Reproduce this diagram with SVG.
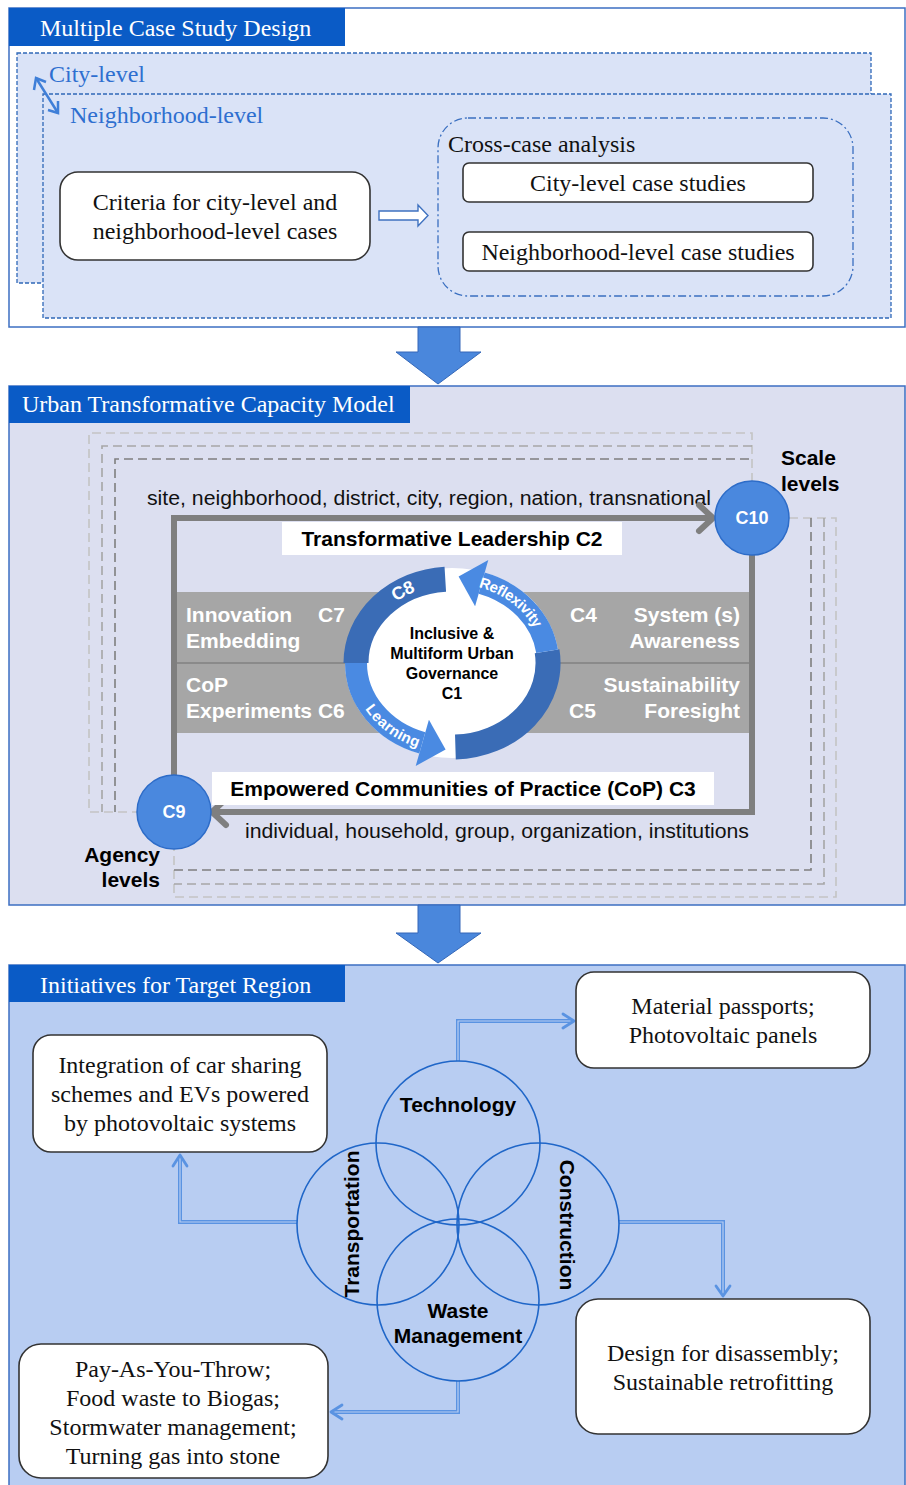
<svg xmlns="http://www.w3.org/2000/svg" width="906" height="1485" viewBox="0 0 906 1485">
<defs>
<style>
.serif{font-family:"Liberation Serif","Times New Roman",serif;}
.sans{font-family:"Liberation Sans",Arial,sans-serif;}
.title{font-family:"Liberation Serif",serif;font-size:24px;fill:#ffffff;}
.sec{stroke:#3d6fc2;stroke-width:1.5;}
.bar{fill:#0a5bc6;}
.wbox{fill:#ffffff;stroke:#333333;stroke-width:1.6;}
.t21{font-family:"Liberation Serif",serif;font-size:24px;fill:#111111;text-anchor:middle;}
.bw{font-family:"Liberation Sans",Arial,sans-serif;font-weight:bold;fill:#ffffff;}
.bb{font-family:"Liberation Sans",Arial,sans-serif;font-weight:bold;fill:#000000;}
.venn{fill:none;stroke:#1f66c8;stroke-width:1.6;}
.conn{fill:none;stroke:#5a93e2;stroke-width:4;}
.connin{fill:none;stroke:#b8cdf2;stroke-width:1.2;}
.chev{fill:none;stroke:#5a93e2;stroke-width:2.8;stroke-linecap:round;stroke-linejoin:round;}
.gl{fill:none;stroke:#7f7f7f;stroke-width:6;}
.bigarrow{fill:#4a87dc;stroke:#3467b8;stroke-width:1;}
.node{fill:#4a88de;stroke:#2d6cc8;stroke-width:1.5;}
</style>
<path id="refPath" d="M 466.7 579.8 A 96 84 0 0 1 544.2 638.3"/>
<path id="c8Path" d="M 370.4 617.8 A 96 84 0 0 1 443.6 579.3"/>
<path id="learnPath" d="M 360.8 689.7 A 96 84 0 0 0 437.3 746.7"/>
</defs>

<!-- SECTION 1 -->
<g id="section1">
<rect x="9" y="8" width="896" height="319" fill="#ffffff" class="sec"/>
<rect x="9" y="8" width="336" height="38" class="bar"/>
<text x="40" y="36" class="title">Multiple Case Study Design</text>
</g>
<g id="city-level">
<rect x="17" y="53" width="854" height="230" fill="#dae3f7" stroke="#2f68b8" stroke-width="1.3" stroke-dasharray="4,2"/>
<text x="49" y="82" class="serif" font-size="24" fill="#2e6fd0">City-level</text>
</g>
<g id="neighborhood-level">
<rect x="43" y="94" width="848" height="224" fill="#dae3f7" stroke="#2f68b8" stroke-width="1.3" stroke-dasharray="4,2"/>
<text x="70" y="123" class="serif" font-size="24" fill="#2e6fd0">Neighborhood-level</text>
</g>
<g id="criteria">
<rect x="60" y="172" width="310" height="88" rx="18" class="wbox"/>
<text x="215" y="210" class="t21">Criteria for city-level and</text>
<text x="215" y="239" class="t21">neighborhood-level cases</text>
</g>
<g id="cross-case">
<rect x="438" y="118" width="415" height="178" rx="30" fill="none" stroke="#3a6fc0" stroke-width="1.3" stroke-dasharray="8,3,2,3"/>
<text x="448" y="152" class="serif" font-size="24" fill="#111">Cross-case analysis</text>
</g>
<g id="city-cases">
<rect x="463" y="163" width="350" height="39" rx="6" class="wbox"/>
<text x="638" y="191" class="t21">City-level case studies</text>
</g>
<g id="neigh-cases">
<rect x="463" y="232" width="350" height="39" rx="6" class="wbox"/>
<text x="638" y="260" class="t21">Neighborhood-level case studies</text>
</g>

<!-- SECTION 2 -->
<g id="section2">
<rect x="9" y="386" width="896" height="519" fill="#dcdff0" class="sec"/>
<rect x="9" y="386" width="401" height="37" class="bar"/>
<text x="22" y="412" class="title">Urban Transformative Capacity Model</text>
</g>
<g id="scale-dashes" fill="none" stroke-dasharray="9,5" stroke-width="1.6">
<path d="M 752 482 L 752 433 L 89 433 L 89 812 L 137 812" stroke="#c4c4c4"/>
<path d="M 752 446 L 102 446 L 102 812" stroke="#a6a6a6"/>
<path d="M 749 459 L 115 459 L 115 812" stroke="#7f7f7f"/>
<path d="M 789 518 L 836 518 L 836 897 L 174 897 L 174 849" stroke="#c4c4c4"/>
<path d="M 824 518 L 824 884 L 174 884" stroke="#a6a6a6"/>
<path d="M 811 518 L 811 870 L 174 870" stroke="#7f7f7f"/>
</g>
<text x="147" y="505" class="sans" font-size="20" fill="#111" textLength="564" lengthAdjust="spacingAndGlyphs">site, neighborhood, district, city, region, nation, transnational</text>
<text x="245" y="838" class="sans" font-size="20" fill="#111" textLength="504" lengthAdjust="spacingAndGlyphs">individual, household, group, organization, institutions</text>

<g id="gray-block">
<rect x="177" y="592" width="572" height="141" fill="#a6a6a6"/>
<line x1="177" y1="663" x2="749" y2="663" stroke="#8a8a8a" stroke-width="2"/>
<text x="186" y="622" class="bw" font-size="21">Innovation</text>
<text x="318" y="622" class="bw" font-size="21">C7</text>
<text x="186" y="648" class="bw" font-size="21">Embedding</text>
<text x="186" y="692" class="bw" font-size="21">CoP</text>
<text x="186" y="718" class="bw" font-size="21">Experiments C6</text>
<text x="570" y="622" class="bw" font-size="21">C4</text>
<text x="740" y="622" class="bw" font-size="21" text-anchor="end">System (s)</text>
<text x="740" y="648" class="bw" font-size="21" text-anchor="end">Awareness</text>
<text x="740" y="692" class="bw" font-size="21" text-anchor="end">Sustainability</text>
<text x="569" y="718" class="bw" font-size="21">C5</text>
<text x="740" y="718" class="bw" font-size="21" text-anchor="end">Foresight</text>
</g>

<g id="connectors-model">
<path d="M 174 777 L 174 518 L 712 518" class="gl"/>
<path d="M 699 505 L 713 518 L 699 531" class="gl" stroke-linecap="round" stroke-linejoin="round"/>
<path d="M 752 555 L 752 812 L 213 812" class="gl"/>
<path d="M 226 799 L 212 812 L 226 825" class="gl" stroke-linecap="round" stroke-linejoin="round"/>
</g>

<g id="leadership">
<rect x="282" y="522" width="340" height="33" fill="#ffffff"/>
<text x="452" y="546" class="bb" font-size="21" text-anchor="middle">Transformative Leadership C2</text>
</g>
<g id="communities">
<rect x="212" y="772" width="502" height="33" fill="#ffffff"/>
<text x="463" y="796" class="bb" font-size="21" text-anchor="middle">Empowered Communities of Practice (CoP) C3</text>
</g>

<g id="C1-cycle">
<ellipse cx="452" cy="663" rx="107" ry="95" fill="#ffffff"/>
<path d="M 445.3 579.2 A 96 84 0 0 0 356 663" fill="none" stroke="#3a6cb6" stroke-width="25"/>
<path d="M 356 663 A 96 84 0 0 0 422.3 742.9" fill="none" stroke="#4a8ae2" stroke-width="22"/>
<polygon points="415.7,766 428.9,719.8 445.6,749.5" fill="#4a8ae2"/>
<path d="M 455.4 747 A 96 84 0 0 0 547.1 651.3" fill="none" stroke="#3a6cb6" stroke-width="25"/>
<path d="M 547.1 651.3 A 96 84 0 0 0 481.7 583.1" fill="none" stroke="#4a8ae2" stroke-width="22"/>
<polygon points="488.3,560 475.1,606.2 458.6,576.5" fill="#4a8ae2"/>
<text class="bw" font-size="18" dy="6"><textPath href="#c8Path" startOffset="50%" text-anchor="middle">C8</textPath></text>
<text class="bw" font-size="15" dy="5"><textPath href="#refPath" startOffset="50%" text-anchor="middle">Reflexivity</textPath></text>
<text class="bw" font-size="15" dy="5"><textPath href="#learnPath" startOffset="50%" text-anchor="middle">Learning</textPath></text>
<text x="452" y="639" class="bb" font-size="16" text-anchor="middle">Inclusive &amp;</text>
<text x="452" y="659" class="bb" font-size="16" text-anchor="middle">Multiform Urban</text>
<text x="452" y="679" class="bb" font-size="16" text-anchor="middle">Governance</text>
<text x="452" y="699" class="bb" font-size="16" text-anchor="middle">C1</text>
</g>

<g id="C10">
<circle cx="752" cy="518" r="37" class="node"/>
<text x="752" y="524" class="bw" font-size="18" text-anchor="middle">C10</text>
<text x="781" y="465" class="bb" font-size="21">Scale</text>
<text x="781" y="491" class="bb" font-size="21">levels</text>
</g>
<g id="C9">
<circle cx="174" cy="812" r="37" class="node"/>
<text x="174" y="818" class="bw" font-size="18" text-anchor="middle">C9</text>
<text x="160" y="862" class="bb" font-size="21" text-anchor="end">Agency</text>
<text x="160" y="887" class="bb" font-size="21" text-anchor="end">levels</text>
</g>

<!-- SECTION 3 -->
<g id="section3">
<rect x="9" y="965" width="896" height="525" fill="#b8cdf2" class="sec"/>
<rect x="9" y="965" width="336" height="37" class="bar"/>
<text x="40" y="993" class="title">Initiatives for Target Region</text>
</g>

<!-- flow arrows between sections -->
<g id="section-arrows">
<polygon points="418,327 460,327 460,352 481,352 438,384 396,352 418,352" class="bigarrow"/>
<polygon points="418,905 460,905 460,933 481,933 438,963 396,933 418,933" class="bigarrow"/>
<path d="M 36 78 L 58 113" stroke="#3f7fd8" stroke-width="2.5" fill="none"/>
<path d="M 34 90 L 36 78 L 46 82" stroke="#3f7fd8" stroke-width="2.5" fill="none"/>
<path d="M 48 110 L 58 113 L 58 101" stroke="#3f7fd8" stroke-width="2.5" fill="none"/>
<polygon points="379,211 418,211 418,205 428,215.5 418,226 418,220 379,220" fill="#ffffff" stroke="#3f72c0" stroke-width="1.4"/>
</g>

<g id="connectors">
<path d="M 458 1061 L 458 1021 L 572 1021" class="conn"/>
<path d="M 458 1061 L 458 1021 L 572 1021" class="connin"/>
<path d="M 563 1014 L 574 1021 L 563 1028" class="chev"/>
<path d="M 297 1222 L 180 1222 L 180 1158" class="conn"/>
<path d="M 297 1222 L 180 1222 L 180 1158" class="connin"/>
<path d="M 173 1166 L 180 1155 L 187 1166" class="chev"/>
<path d="M 619 1222 L 723 1222 L 723 1294" class="conn"/>
<path d="M 619 1222 L 723 1222 L 723 1294" class="connin"/>
<path d="M 716 1286 L 723 1296 L 730 1286" class="chev"/>
<path d="M 458 1381 L 458 1412 L 333 1412" class="conn"/>
<path d="M 458 1381 L 458 1412 L 333 1412" class="connin"/>
<path d="M 342 1405 L 331 1412 L 342 1419" class="chev"/>
</g>

<g id="technology">
<circle cx="458" cy="1143" r="82" class="venn"/>
<text x="458" y="1112" class="bb" font-size="21" text-anchor="middle">Technology</text>
</g>
<g id="transportation">
<circle cx="378" cy="1224" r="81" class="venn"/>
<text transform="translate(359 1224) rotate(-90)" x="0" y="0" class="bb" font-size="21" text-anchor="middle">Transportation</text>
</g>
<g id="construction">
<circle cx="538" cy="1224" r="81" class="venn"/>
<text transform="translate(560 1225) rotate(90)" x="0" y="0" class="bb" font-size="21" text-anchor="middle">Construction</text>
</g>
<g id="waste">
<circle cx="458" cy="1300" r="81" class="venn"/>
<text x="458" y="1318" class="bb" font-size="21" text-anchor="middle">Waste</text>
<text x="458" y="1343" class="bb" font-size="21" text-anchor="middle">Management</text>
</g>

<g id="box-transport">
<rect x="33" y="1035" width="294" height="117" rx="18" class="wbox"/>
<text x="180" y="1073" class="t21">Integration of car sharing</text>
<text x="180" y="1102" class="t21">schemes and EVs powered</text>
<text x="180" y="1131" class="t21">by photovoltaic systems</text>
</g>
<g id="box-technology">
<rect x="576" y="972" width="294" height="96" rx="18" class="wbox"/>
<text x="723" y="1014" class="t21">Material passports;</text>
<text x="723" y="1043" class="t21">Photovoltaic panels</text>
</g>
<g id="box-construction">
<rect x="576" y="1299" width="294" height="135" rx="22" class="wbox"/>
<text x="723" y="1361" class="t21">Design for disassembly;</text>
<text x="723" y="1390" class="t21">Sustainable retrofitting</text>
</g>
<g id="box-waste">
<rect x="19" y="1344" width="309" height="134" rx="22" class="wbox"/>
<text x="173" y="1377" class="t21">Pay-As-You-Throw;</text>
<text x="173" y="1406" class="t21">Food waste to Biogas;</text>
<text x="173" y="1435" class="t21">Stormwater management;</text>
<text x="173" y="1464" class="t21">Turning gas into stone</text>
</g>
</svg>
